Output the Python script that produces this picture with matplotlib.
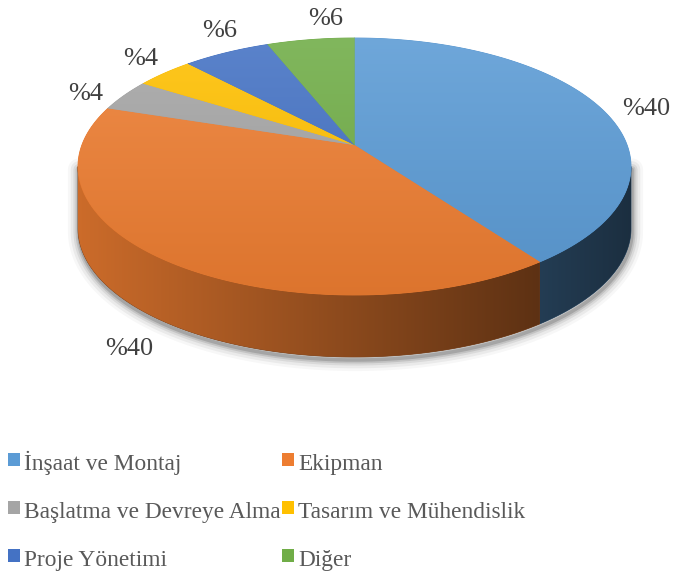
import numpy as np
import matplotlib.pyplot as plt
from matplotlib.patches import Polygon, Rectangle
from matplotlib.colors import to_rgb

# data
categories = ['İnşaat ve Montaj', 'Ekipman', 'Başlatma ve Devreye Alma',
              'Tasarım ve Mühendislik', 'Proje Yönetimi', 'Diğer']
values = [40, 40, 4, 4, 6, 6]
pct_labels = ['%40', '%40', '%4', '%4', '%6', '%6']
colors = ['#5B9BD5', '#ED7D31', '#A5A5A5', '#FFC000', '#4472C4', '#70AD47']

# layout (pixels, y down)
label_xy = [(622, 115), (105, 355), (68, 100), (123, 65), (202, 37), (308, 25)]
W, H = 675, 578
cx, cy, rx, ry = 354.5, 166.5, 276.5, 128.5
k = 0.167      # perspective strength
depth = 62
FONT = 'Liberation Serif'

fig = plt.figure(figsize=(6.75, 5.78), dpi=100)
ax = fig.add_axes([0, 0, 1, 1])


def project(theta, r=1.0):
    # theta clockwise from 12 o'clock, circle seen in perspective
    a = r * np.sin(theta)
    b = -r * np.cos(theta)
    w = 1 - k * b
    return cx + rx * np.sqrt(1 - k * k) * a / w, cy + ry * (b - k) / w


def gradient_fill(pts, img, z):
    im = ax.imshow(img, extent=(0, W, H, 0), origin='upper', aspect='auto',
                   interpolation='bilinear', zorder=z)
    im.set_clip_path(Polygon(pts, closed=True, transform=ax.transData))


fr = np.array(values, dtype=float) / sum(values)
ends = np.cumsum(fr) * 2 * np.pi
starts = ends - fr * 2 * np.pi

# soft shadow under the visible rim
t_r = np.arccos(-k)
t_l = 2 * np.pi - t_r
ts = np.linspace(t_r, t_l, 300)
sx, sy = project(ts)
sx = np.concatenate([[sx[0]], sx, [sx[-1]]])
sy = np.concatenate([[sy[0]], sy + depth, [sy[-1]]])
for lw, al in [(16, 0.03), (12, 0.05), (8, 0.07), (5, 0.1), (2.5, 0.15)]:
    ax.plot(sx + 1, sy + 3, color='black', lw=lw, alpha=al, solid_capstyle='round',
            solid_joinstyle='round', zorder=0.5)

# side wall, darker towards the right
xx = np.arange(W)
shade = 0.58 - 0.28 * np.clip((xx - cx) / rx, -1, 1)
for i in range(len(values)):
    lo, hi = max(starts[i], t_r), min(ends[i], t_l)
    if hi <= lo:
        continue
    arc = np.linspace(lo, hi, 150)
    px, py = project(arc)
    pts = np.column_stack([np.r_[px, px[::-1]], np.r_[py, py[::-1] + depth]])
    base = np.array(to_rgb(colors[i]))
    mid = base * 0.5
    ax.add_patch(Polygon(pts, closed=True, facecolor=mid, edgecolor=mid, lw=0.5, zorder=1))
    img = np.clip(base[None, :] * shade[:, None], 0, 1)[None, :, :]
    gradient_fill(pts, img, 1.2)

# top face with a soft vertical gradient
yy = np.arange(H)
t = np.clip((yy - (cy - ry)) / (2 * ry), 0, 1)
ox, oy = project(0.0, 0.0)
for i in range(len(values)):
    arc = np.linspace(starts[i], ends[i], 120)
    px, py = project(arc)
    pts = np.column_stack([np.r_[ox, px], np.r_[oy, py]])
    base = np.array(to_rgb(colors[i]))
    ax.add_patch(Polygon(pts, closed=True, facecolor=base, edgecolor=base * 0.97,
                         lw=0.6, joinstyle='round', zorder=1.5))
    col = (base + (1 - base) * 0.12 * (1 - t)[:, None]) * (1 - 0.07 * t)[:, None]
    gradient_fill(pts, np.clip(col, 0, 1)[:, None, :], 2)

# percentage labels
for (lx, ly), lab in zip(label_xy, pct_labels):
    ax.text(lx, ly, lab, fontsize=19, family=FONT, color='#404040',
            ha='left', va='baseline', zorder=5)

# legend, two per row
row_y = [470, 518, 566]
col_x = [8, 282]
for i, name in enumerate(categories):
    mx = col_x[i % 2]
    by = row_y[i // 2]
    ax.add_patch(Rectangle((mx, by - 17), 12, 13, facecolor=colors[i],
                           edgecolor='none', zorder=5))
    ax.text(mx + 16, by, name, fontsize=16.8, family=FONT, color='#595959',
            ha='left', va='baseline', zorder=5)

ax.set_xlim(0, W)
ax.set_ylim(H, 0)
ax.axis('off')
fig.savefig('out.png', dpi=100)
